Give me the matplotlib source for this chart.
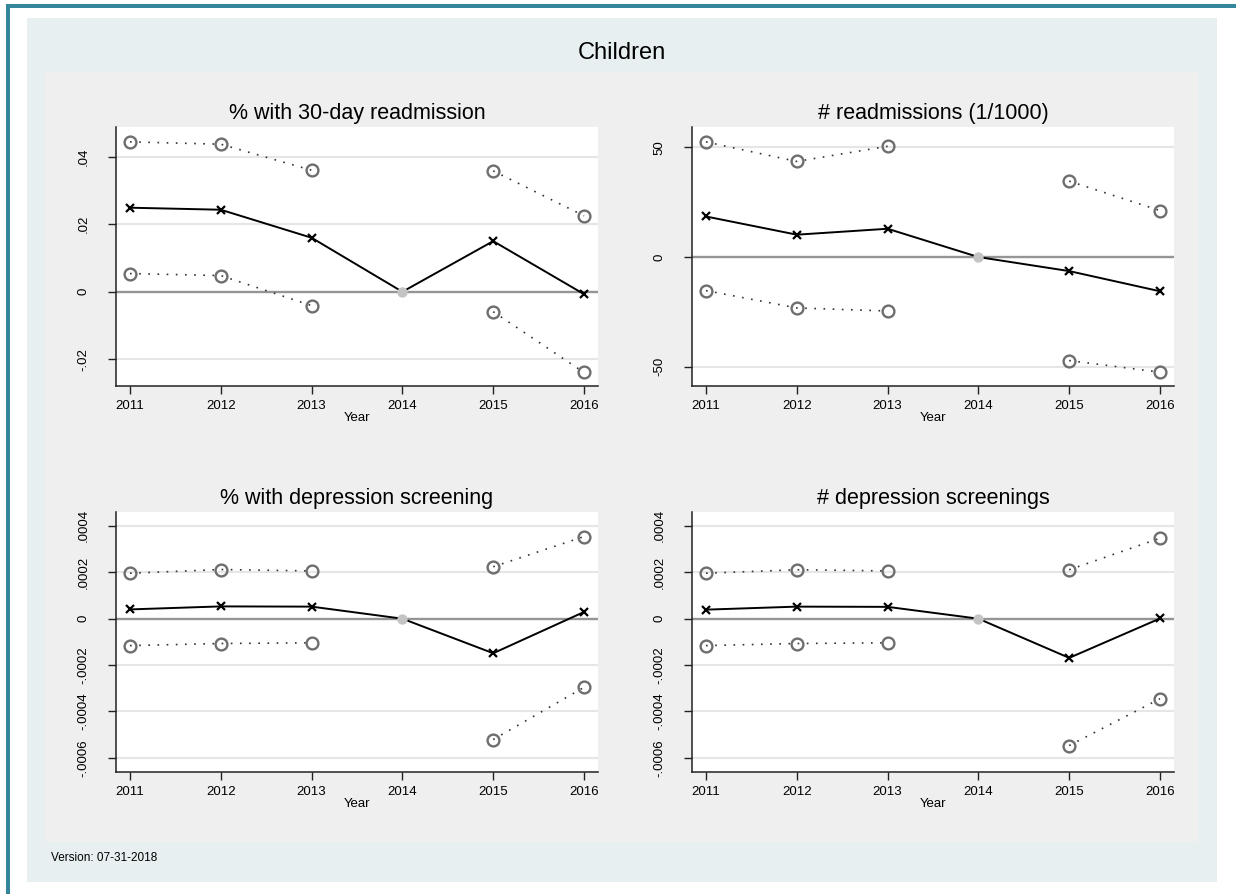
import numpy as np
import matplotlib
matplotlib.use("Agg")
import matplotlib.pyplot as plt
from matplotlib.patches import Rectangle

plt.rcParams["font.family"] = ["Liberation Sans", "DejaVu Sans"]

nan = np.nan
years = [2011, 2012, 2013, 2014, 2015, 2016]
ref_year = 2014

# Panel 1: % with 30-day readmission
readmit_pct_est = [0.0249, 0.0243, 0.0160, 0.0, 0.0150, -0.0007]
readmit_pct_hi = [0.0444, 0.0437, 0.0360, nan, 0.0358, 0.0225]
readmit_pct_lo = [0.0054, 0.0048, -0.0041, nan, -0.0059, -0.0239]
readmit_pct_ticks = [-0.02, 0.0, 0.02, 0.04]
readmit_pct_labels = ["-.02", "0", ".02", ".04"]

# Panel 2: # readmissions (1/1000)
readmit_n_est = [18.5, 10.2, 12.9, 0.0, -6.4, -15.6]
readmit_n_hi = [52.5, 43.6, 50.5, nan, 34.6, 21.2]
readmit_n_lo = [-15.3, -23.2, -24.6, nan, -47.2, -52.5]
readmit_n_ticks = [-50, 0, 50]
readmit_n_labels = ["-50", "0", "50"]

# Panel 3: % with depression screening
screen_pct_est = [0.000040, 0.000053, 0.000052, 0.0, -0.000149, 0.000029]
screen_pct_hi = [0.000196, 0.000212, 0.000206, nan, 0.000224, 0.000354]
screen_pct_lo = [-0.000116, -0.000107, -0.000104, nan, -0.000521, -0.000296]

# Panel 4: # depression screenings
screen_n_est = [0.000039, 0.000052, 0.000051, 0.0, -0.000169, 0.000001]
screen_n_hi = [0.000196, 0.000211, 0.000206, nan, 0.000211, 0.000347]
screen_n_lo = [-0.000116, -0.000107, -0.000104, nan, -0.000547, -0.000345]
screen_ticks = [-0.0006, -0.0004, -0.0002, 0.0, 0.0002, 0.0004]
screen_labels = ["-.0006", "-.0004", "-.0002", "0", ".0002", ".0004"]

titles = ["% with 30-day readmission", "# readmissions (1/1000)",
          "% with depression screening", "# depression screenings"]
suptitle = "Children"
xlabel = "Year"
footnote = "Version: 07-31-2018"

W, H = 1236, 894
fig = plt.figure(figsize=(W / 100, H / 100), dpi=100)
fig.patch.set_facecolor("white")


def px_rect(x0, y0, x1, y1, color):
    fig.patches.append(Rectangle((x0 / W, 1 - y1 / H), (x1 - x0) / W, (y1 - y0) / H,
                                 transform=fig.transFigure, facecolor=color,
                                 edgecolor="none", zorder=-10))


# frame and backgrounds
px_rect(6, 4, W, 8, "#34869b")
px_rect(6, 4, 10, H, "#34869b")
px_rect(27, 18, 1217, 882, "#e8eff1")
px_rect(45, 72, 1198, 842, "#efefef")


def px_axes(x0, y0, x1, y1):
    return fig.add_axes([x0 / W, 1 - y1 / H, (x1 - x0) / W, (y1 - y0) / H])


panels = [
    (px_axes(116, 127, 598, 386), readmit_pct_est, readmit_pct_hi, readmit_pct_lo,
     readmit_pct_ticks, readmit_pct_labels, (-0.0279, 0.0488)),
    (px_axes(692, 127, 1174, 386), readmit_n_est, readmit_n_hi, readmit_n_lo,
     readmit_n_ticks, readmit_n_labels, (-58.8, 59.3)),
    (px_axes(116, 512, 598, 772), screen_pct_est, screen_pct_hi, screen_pct_lo,
     screen_ticks, screen_labels, (-0.000661, 0.00046)),
    (px_axes(692, 512, 1174, 772), screen_n_est, screen_n_hi, screen_n_lo,
     screen_ticks, screen_labels, (-0.000661, 0.00046)),
]

yrs = np.array(years, dtype=float)
for (ax, est, hi, lo, ticks, labels, ylim), title in zip(panels, titles):
    ax.set_facecolor("white")
    for t in ticks:
        if t == 0:
            ax.axhline(0, color="#959595", lw=1.7, zorder=1)
        else:
            ax.axhline(t, color="#e6e6e6", lw=1.5, zorder=0.5)
    for ci in (hi, lo):
        ax.plot(yrs, ci, color="#333333", lw=1.2, ls=(0, (1, 4.5)),
                marker="o", markersize=8.5, markerfacecolor="none",
                markeredgecolor="#6e6e6e", markeredgewidth=1.7, zorder=2)
    est = np.array(est, dtype=float)
    ax.plot(yrs, est, color="black", lw=1.4, zorder=3)
    mask = yrs != ref_year
    ax.plot(yrs[mask], est[mask], ls="none", marker="x", color="black",
            markersize=5.5, markeredgewidth=1.6, zorder=4)
    ax.plot(yrs[~mask], est[~mask], ls="none", marker="o", color="#c4c4c4",
            markersize=7.5, markeredgewidth=0, zorder=4)

    ax.set_xlim(2010.846, 2016.154)
    ax.set_ylim(*ylim)
    ax.set_xticks(years)
    ax.set_xticklabels([str(y) for y in years], fontsize=9.5)
    ax.set_yticks(ticks)
    ax.set_yticklabels(labels, fontsize=9.5, rotation=90, va="center")
    ax.tick_params(axis="y", length=6, width=1, pad=13, color="#222222")
    ax.tick_params(axis="x", length=6, width=1, pad=4, color="#222222")
    for s in ("top", "right"):
        ax.spines[s].set_visible(False)
    for s in ("left", "bottom"):
        ax.spines[s].set_color("#222222")
        ax.spines[s].set_linewidth(1.1)
    ax.set_xlabel(xlabel, fontsize=9.5, labelpad=0)
    ax.set_title(title, fontsize=15.5, pad=6)

fig.text(621.5 / W, 1 - 53 / H, suptitle, fontsize=17, ha="center", va="center")
fig.text(51 / W, 1 - 858 / H, footnote, fontsize=8.5, ha="left", va="center")

fig.savefig("out.png", dpi=100)
